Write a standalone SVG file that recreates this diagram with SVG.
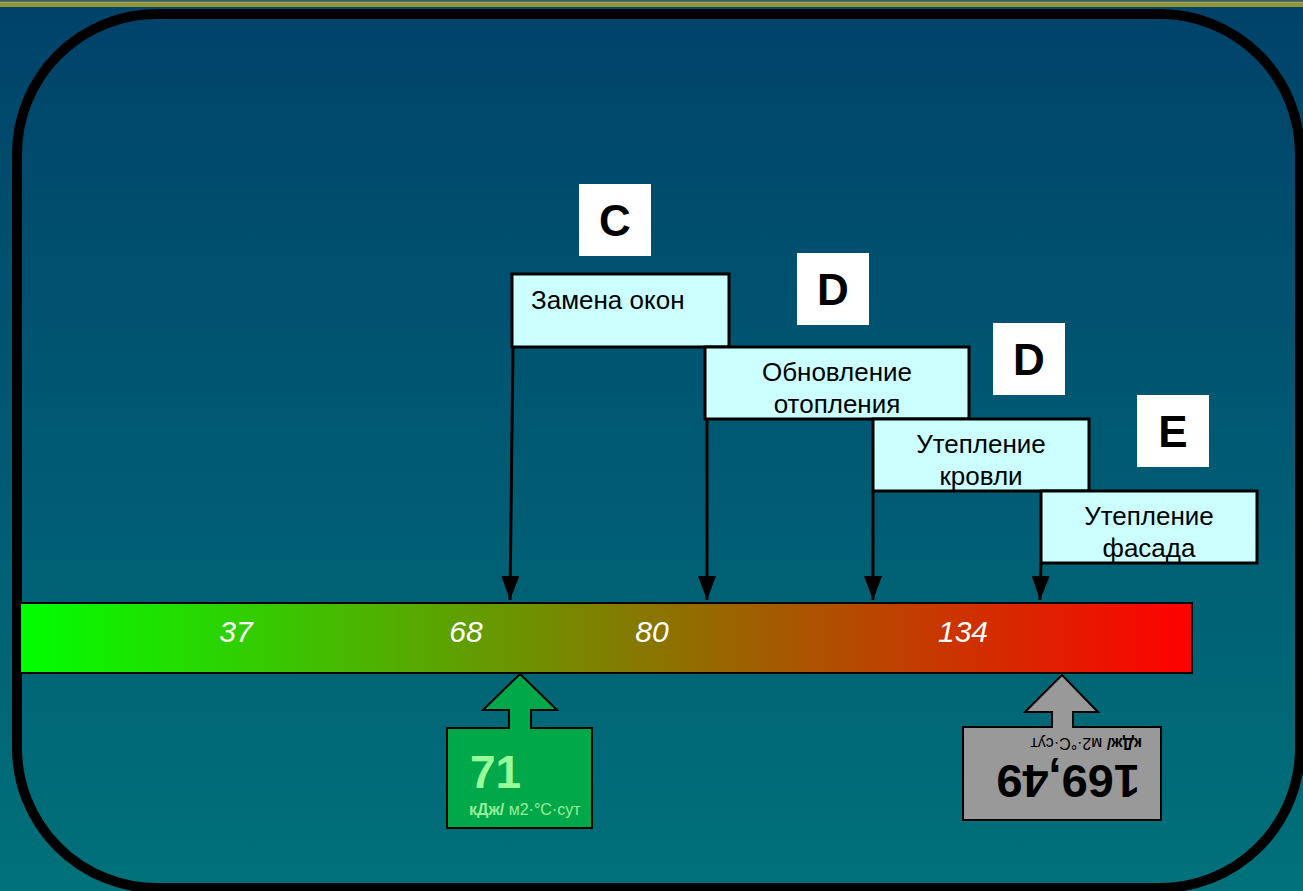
<svg xmlns="http://www.w3.org/2000/svg" width="1303" height="891" viewBox="0 0 1303 891">
<defs>
<linearGradient id="bg" x1="0" y1="0" x2="0" y2="1">
<stop offset="0" stop-color="#00426a"/>
<stop offset="1" stop-color="#00717a"/>
</linearGradient>
<linearGradient id="scale" x1="0" y1="0" x2="1" y2="0">
<stop offset="0" stop-color="#00ff00"/>
<stop offset="1" stop-color="#ff0000"/>
</linearGradient>
<marker id="ah" viewBox="0 0 24 18" refX="24" refY="9" markerWidth="24" markerHeight="18" markerUnits="userSpaceOnUse" orient="auto">
<path d="M0,0 L24,9 L0,18 Z" fill="#000"/>
</marker>
<style>
.box{fill:#ccffff;stroke:#000;stroke-width:3}
.lbl{font-family:"Liberation Sans",Arial,sans-serif;font-size:26px;fill:#000}
.mid{text-anchor:middle}
.sq{fill:#fff}
.let{font-family:"Liberation Sans",Arial,sans-serif;font-size:44px;font-weight:bold;fill:#000;text-anchor:middle}
.num{font-family:"Liberation Sans",Arial,sans-serif;font-size:30px;font-style:italic;fill:#fff;text-anchor:middle}
.conn{stroke:#000;stroke-width:3;fill:none;marker-end:url(#ah)}
</style>
</defs>
<rect x="0" y="0" width="1303" height="891" fill="url(#bg)"/>
<rect x="0" y="0" width="1303" height="1.5" fill="#3a5a74"/>
<rect x="0" y="1.5" width="1303" height="5.5" fill="#8e973c"/>
<rect x="0" y="2" width="1303" height="1" fill="#a6a44c"/>
<rect x="17" y="14" width="1283" height="874" rx="140" ry="140" fill="none" stroke="#000" stroke-width="10"/>

<g id="scale-bar">
<rect x="20" y="603" width="1172" height="70" fill="url(#scale)" stroke="#000" stroke-width="2"/>
<text class="num" x="236" y="642">37</text>
<text class="num" x="466" y="642">68</text>
<text class="num" x="652" y="642">80</text>
<text class="num" x="963" y="642">134</text>
</g>

<g id="connectors">
<path class="conn" d="M513,347 L510,600"/>
<path class="conn" d="M707,419 L707,600"/>
<path class="conn" d="M873,491 L873,600"/>
<path class="conn" d="M1041,563 L1040,600"/>
</g>

<g id="box-windows">
<rect class="box" x="512" y="274" width="217" height="73"/>
<text class="lbl" x="531" y="309">Замена окон</text>
</g>
<g id="box-heating">
<rect class="box" x="705" y="347" width="264" height="72"/>
<text class="lbl mid" x="837" y="381">Обновление</text>
<text class="lbl mid" x="837" y="413">отопления</text>
</g>
<g id="box-roof">
<rect class="box" x="873" y="419" width="216" height="72"/>
<text class="lbl mid" x="981" y="453">Утепление</text>
<text class="lbl mid" x="981" y="485">кровли</text>
</g>
<g id="box-facade">
<rect class="box" x="1041" y="491" width="216" height="72"/>
<text class="lbl mid" x="1149" y="525">Утепление</text>
<text class="lbl mid" x="1149" y="557">фасада</text>
</g>

<g id="class-c">
<rect class="sq" x="579" y="184" width="72" height="72"/>
<text class="let" x="615" y="236">C</text>
</g>
<g id="class-d1">
<rect class="sq" x="797" y="253" width="72" height="72"/>
<text class="let" x="833" y="305">D</text>
</g>
<g id="class-d2">
<rect class="sq" x="993" y="323" width="72" height="72"/>
<text class="let" x="1029" y="375">D</text>
</g>
<g id="class-e">
<rect class="sq" x="1137" y="395" width="72" height="72"/>
<text class="let" x="1173" y="447">E</text>
</g>

<g id="target-71">
<path d="M520,674 L557,710 L531,710 L531,728 L592,728 L592,828 L447,828 L447,728 L509,728 L509,710 L483,710 Z" fill="#00a84a" stroke="#000" stroke-width="2"/>
<text x="470" y="788" font-family="Liberation Sans, Arial, sans-serif" font-size="46" font-weight="bold" fill="#99ff99">71</text>
<text x="469" y="815" font-family="Liberation Sans, Arial, sans-serif" font-size="16" fill="#99ee99"><tspan font-weight="bold">кДж/</tspan> м2·°С·сут</text>
</g>

<g id="current-169">
<path d="M1062,675 L1098,712 L1073,712 L1073,727 L1161,727 L1161,820 L963,820 L963,727 L1052,727 L1052,712 L1025,712 Z" fill="#999999" stroke="#000" stroke-width="2"/>
<g transform="rotate(180 1062 773.5)">
<text x="984" y="782" font-family="Liberation Sans, Arial, sans-serif" font-size="47" font-weight="bold" fill="#000">169,49</text>
<text x="982" y="809" font-family="Liberation Sans, Arial, sans-serif" font-size="16" fill="#000"><tspan font-weight="bold">кДж/</tspan> м2·°С·сут</text>
</g>
</g>
</svg>
